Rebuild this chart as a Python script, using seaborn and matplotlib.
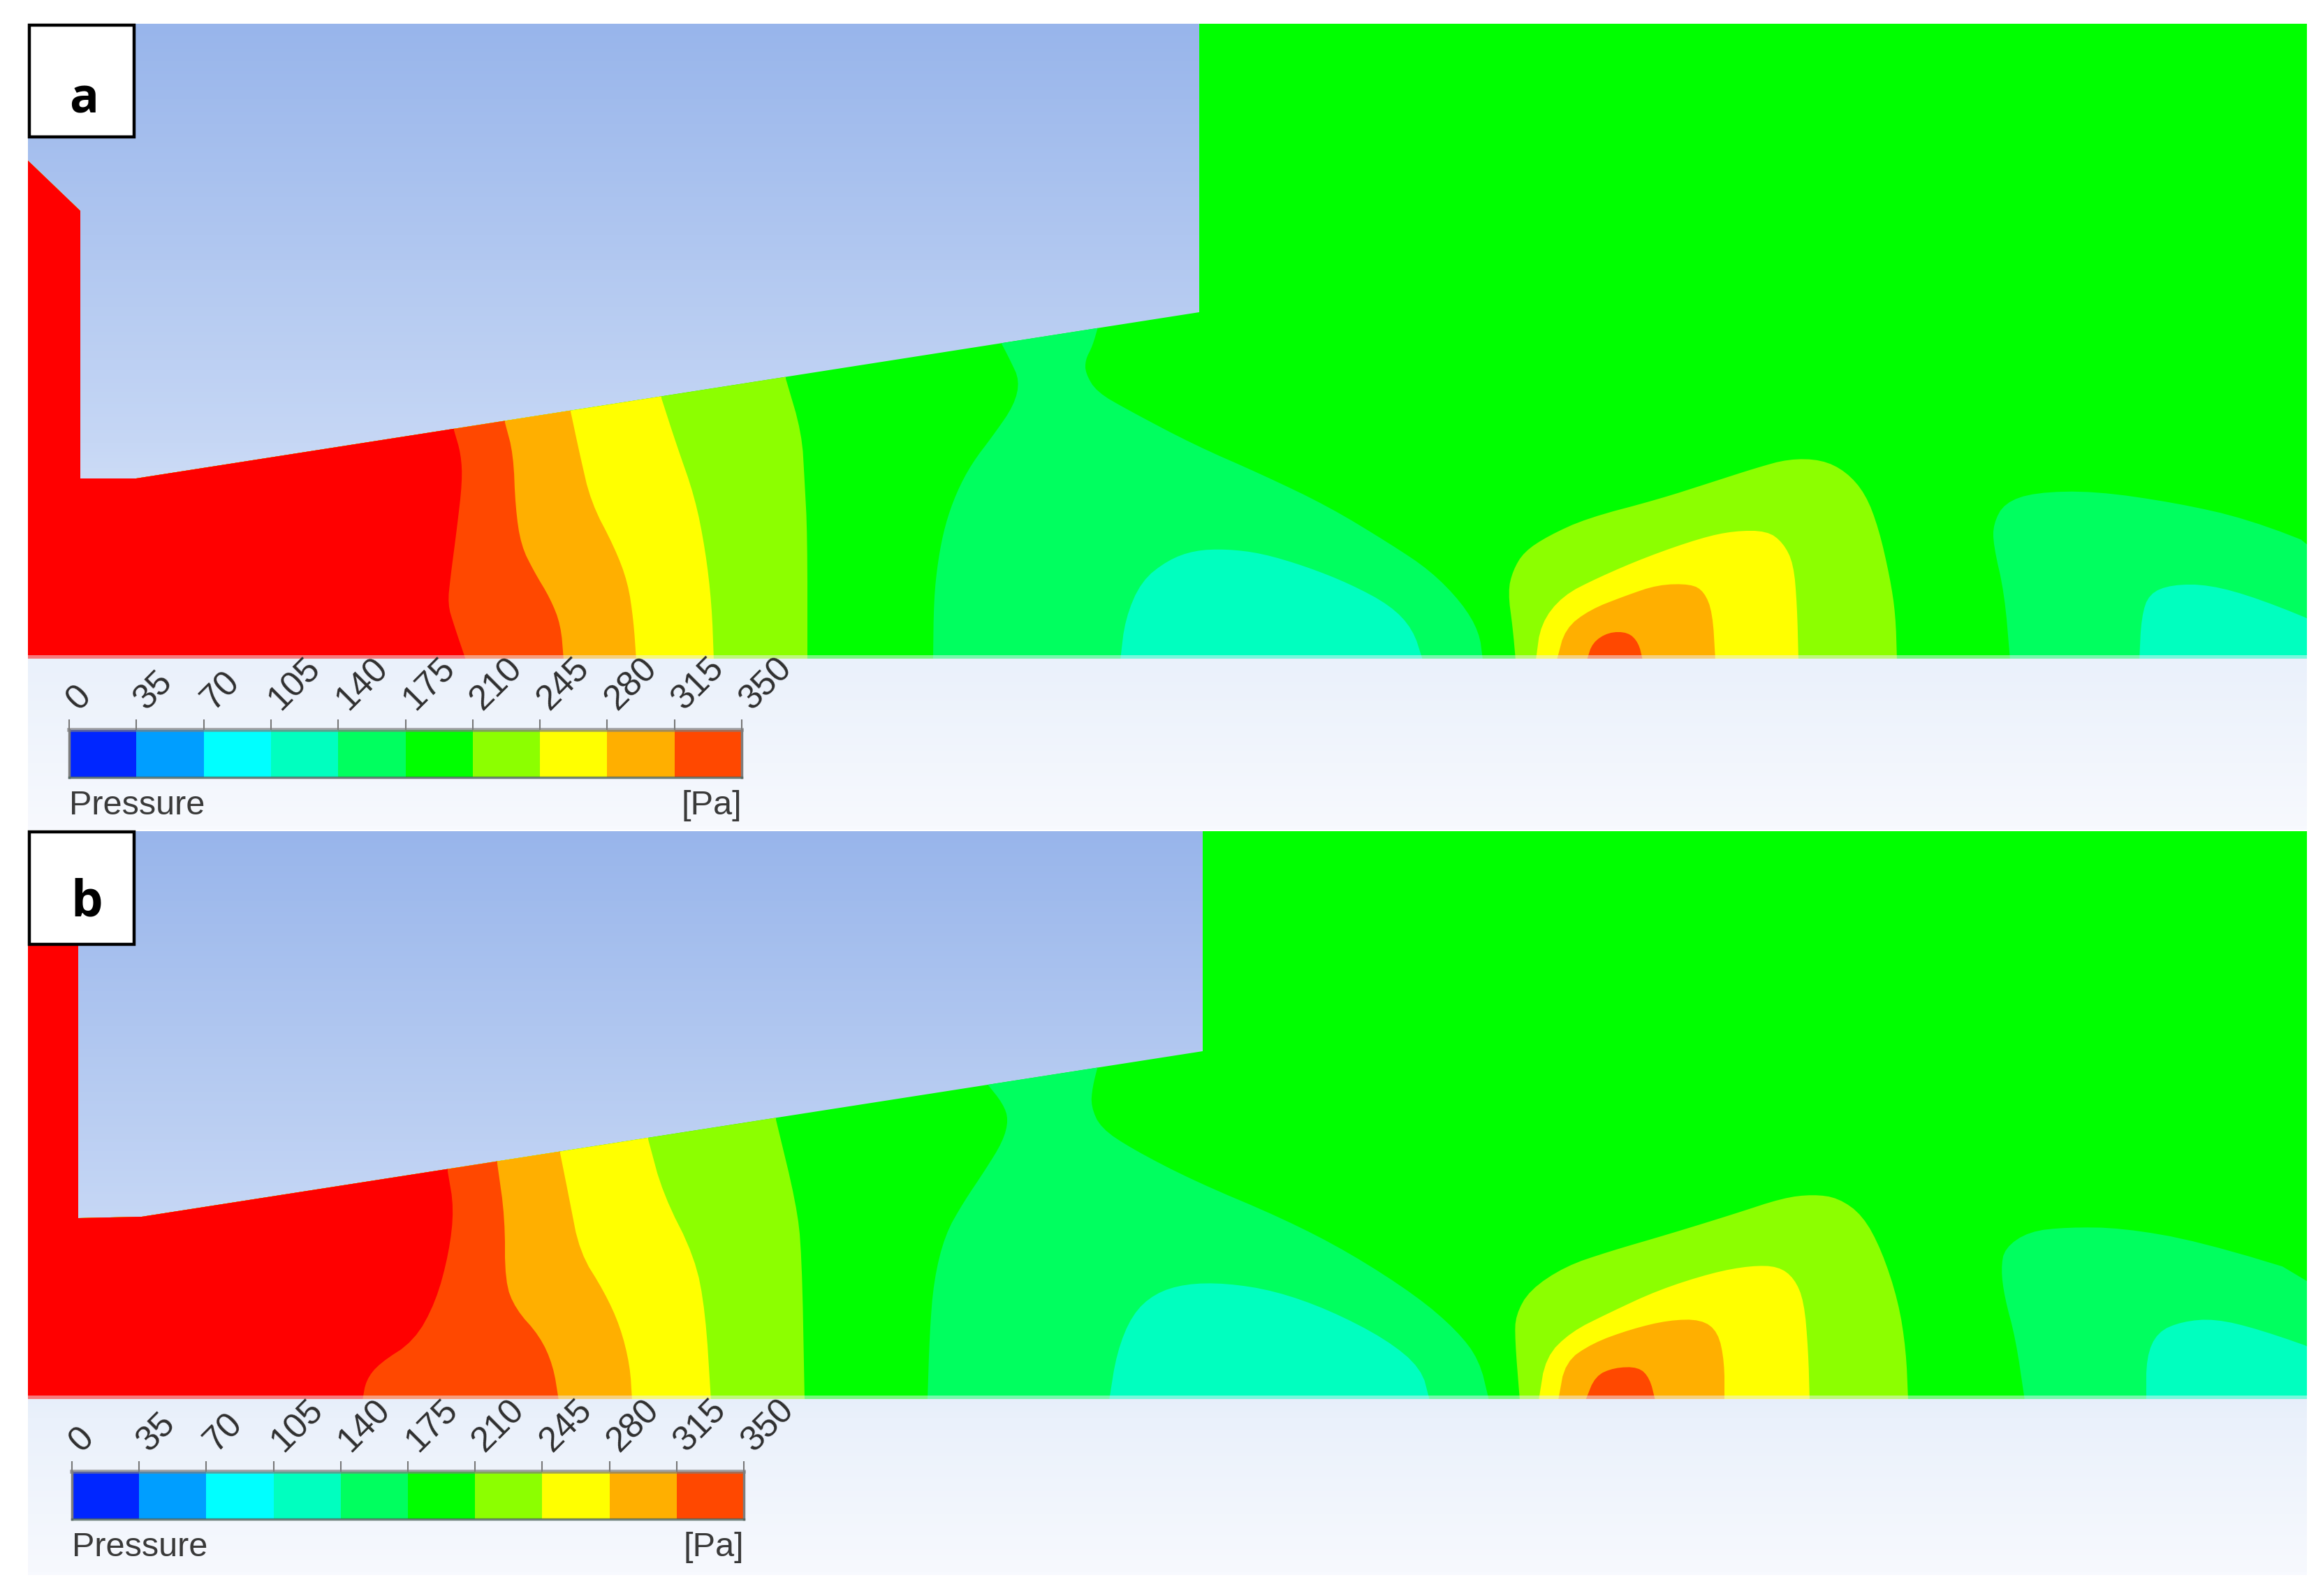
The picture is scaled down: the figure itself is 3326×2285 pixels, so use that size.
#!/usr/bin/env python3
import numpy as np
import matplotlib
matplotlib.use("Agg")
import matplotlib.pyplot as plt
from matplotlib.colors import ListedColormap, LinearSegmentedColormap
from matplotlib.patches import Polygon, Rectangle
import seaborn as sns

WIDTH, HEIGHT = 3326, 2285

# Legend levels and band colours
PRESSURE_TICKS = [0, 35, 70, 105, 140, 175, 210, 245, 280, 315, 350]
BAND_COLORS = ["#0026FF", "#009EFF", "#00FFFF", "#00FFBF", "#00FF5F", "#00FF00",
               "#8CFF00", "#FFFF00", "#FFAF00", "#FF4800"]
COL_RED = "#FF0000"
COL_ORANGERED, COL_ORANGE, COL_YELLOW, COL_LIME = BAND_COLORS[9], BAND_COLORS[8], BAND_COLORS[7], BAND_COLORS[6]
COL_GREEN, COL_SPRING, COL_AQUA = BAND_COLORS[5], BAND_COLORS[4], BAND_COLORS[3]

# Panel a: fluid outline and isobars (pixels)
A_FLUID = [(40, 230), (115, 302), (115, 685), (195, 685), (1717, 447), (1717, 34),
           (3303, 34), (3303, 943), (40, 943)]
A_RED_EDGE = [(650, 616), (660, 650), (662, 689), (654, 758), (645, 826), (641, 865), (650, 895), (667, 945)]
A_ORANGERED_EDGE = [(723, 605), (735, 650), (738, 727), (746, 781), (765, 819), (788, 857), (803, 895), (807, 945)]
A_ORANGE_EDGE = [(817, 589), (830, 650), (846, 719), (880, 784), (899, 834), (907, 888), (911, 945)]
A_YELLOW_EDGE = [(947, 570), (968, 635), (995, 712), (1010, 788), (1019, 865), (1022, 945)]
A_LIME_EDGE = [(1125, 542), (1148, 620), (1152, 689), (1156, 765), (1156, 945)]
A_SPRING_MID = [(1433, 490), (1446, 515), (1460, 545), (1452, 580), (1423, 622), (1391, 664), (1369, 706),
                (1353, 752), (1343, 802), (1337, 859), (1336, 945), (2123, 945), (2118, 905), (2093, 863),
                (2048, 817), (1991, 779), (1902, 725), (1806, 679), (1710, 637), (1615, 587), (1570, 561),
                (1554, 534), (1554, 515), (1564, 496), (1573, 465)]
A_AQUA_MID = [(1604, 945), (1611, 886), (1634, 832), (1672, 802), (1710, 788), (1755, 786), (1806, 792),
              (1870, 811), (1933, 836), (1991, 867), (2023, 901), (2037, 945)]
A_LIME_BUMP = [(2170, 945), (2166, 900), (2159, 847), (2166, 817), (2182, 790), (2217, 767), (2272, 742),
               (2374, 715), (2452, 690), (2514, 670), (2561, 657), (2608, 658), (2643, 675), (2671, 707),
               (2690, 757), (2706, 827), (2714, 880), (2716, 945)]
A_YELLOW_BUMP = [(2199, 945), (2206, 893), (2237, 853), (2288, 827), (2358, 797), (2436, 770), (2483, 760),
                 (2530, 760), (2553, 777), (2568, 807), (2573, 867), (2575, 945)]
A_ORANGE_BUMP = [(2229, 945), (2241, 900), (2276, 873), (2327, 853), (2374, 837), (2421, 836), (2440, 847),
                 (2452, 877), (2456, 945)]
A_ORANGERED_BUMP = [(2272, 945), (2280, 920), (2303, 905), (2331, 905), (2346, 920), (2352, 945)]
A_SPRING_RIGHT = [(2878, 945), (2870, 850), (2854, 780), (2854, 750), (2870, 720), (2913, 705), (2999, 703),
                  (3116, 720), (3218, 743), (3340, 790), (3340, 945)]
A_AQUA_RIGHT = [(3063, 945), (3066, 883), (3077, 850), (3109, 837), (3163, 837), (3234, 857), (3340, 900),
                (3340, 945)]

# Panel b
B_FLUID = [(40, 1190), (112, 1190), (112, 1744), (203, 1742), (1722, 1505), (1722, 1190),
           (3303, 1190), (3303, 2003), (40, 2003)]
B_RED_EDGE = [(641, 1677), (650, 1730), (643, 1793), (624, 1864), (593, 1920), (543, 1952), (524, 1976), (519, 2005)]
B_ORANGERED_EDGE = [(712, 1666), (723, 1744), (723, 1835), (738, 1874), (773, 1913), (792, 1955), (800, 2005)]
B_ORANGE_EDGE = [(802, 1651), (815, 1716), (830, 1793), (865, 1849), (888, 1899), (902, 1955), (905, 2005)]
B_YELLOW_EDGE = [(928, 1631), (949, 1709), (995, 1800), (1010, 1878), (1018, 2005)]
B_LIME_EDGE = [(1111, 1603), (1140, 1723), (1148, 1793), (1152, 2005)]
B_SPRING_MID = [(1412, 1550), (1436, 1580), (1444, 1603), (1436, 1634), (1410, 1676), (1379, 1722), (1353, 1768),
                (1337, 1833), (1331, 1909), (1328, 2005), (2132, 2005), (2118, 1947), (2086, 1905), (2029, 1856),
                (1933, 1794), (1838, 1745), (1710, 1691), (1621, 1645), (1576, 1615), (1562, 1584), (1564, 1557),
                (1573, 1522)]
B_AQUA_MID = [(1588, 2005), (1599, 1936), (1621, 1882), (1653, 1852), (1697, 1838), (1755, 1837), (1825, 1848),
              (1902, 1875), (1984, 1917), (2035, 1959), (2047, 2005)]
B_LIME_BUMP = [(2176, 2005), (2169, 1917), (2170, 1883), (2190, 1847), (2241, 1813), (2303, 1792), (2389, 1767),
               (2483, 1738), (2553, 1715), (2596, 1710), (2632, 1715), (2667, 1740), (2694, 1790), (2718, 1863),
               (2729, 1933), (2732, 2005)]
B_YELLOW_BUMP = [(2203, 2005), (2213, 1943), (2249, 1907), (2303, 1880), (2374, 1847), (2452, 1822), (2507, 1812),
                 (2546, 1813), (2569, 1830), (2583, 1863), (2589, 1933), (2591, 2005)]
B_ORANGE_BUMP = [(2231, 2005), (2241, 1950), (2280, 1923), (2335, 1903), (2389, 1890), (2436, 1889), (2460, 1907),
                 (2469, 1950), (2469, 2005)]
B_ORANGERED_BUMP = [(2270, 2005), (2284, 1970), (2311, 1958), (2346, 1957), (2362, 1973), (2370, 2005)]
B_SPRING_RIGHT = [(2899, 2005), (2886, 1917), (2870, 1857), (2865, 1817), (2870, 1787), (2905, 1763), (2960, 1757),
                  (3038, 1758), (3148, 1777), (3340, 1835), (3340, 2005)]
B_AQUA_RIGHT = [(3073, 2005), (3073, 1943), (3089, 1907), (3124, 1892), (3171, 1888), (3234, 1903), (3340, 1940),
                (3340, 2005)]


def smooth(points, rounds=2):
    # corner cutting so the isobars do not look polygonal
    pts = np.array(points, dtype=float)
    if len(pts) < 3:
        return pts
    for _ in range(rounds):
        q = 0.75 * pts[:-1] + 0.25 * pts[1:]
        r = 0.25 * pts[:-1] + 0.75 * pts[1:]
        mid = np.empty((2 * len(q), 2))
        mid[0::2] = q
        mid[1::2] = r
        pts = np.vstack([pts[:1], mid, pts[-1:]])
    return pts


def smooth_outline(outline, bottom):
    # the points on the bottom line stay sharp, only the arms between them are rounded
    arms, run = [], []
    for p in outline:
        run.append(p)
        if p[1] == bottom and len(run) > 1:
            arms.append(smooth(run))
            run = [p]
    if len(run) > 1:
        arms.append(smooth(run))
    return np.vstack(arms)


def left_region(edge, top, bottom):
    pts = smooth(edge)
    extra = np.array([(0, bottom), (0, top), (pts[0, 0], top)], dtype=float)
    return np.vstack([pts, extra])


def draw_field(ax, fluid, left_edges, islands, top, bottom):
    base = Polygon(fluid, closed=True, facecolor=COL_GREEN, edgecolor="none", zorder=2)
    ax.add_patch(base)
    for edge, color in left_edges:
        p = Polygon(left_region(edge, top, bottom), closed=True, facecolor=color, edgecolor="none", zorder=3)
        ax.add_patch(p)
        p.set_clip_path(base)
    for outline, color in islands:
        p = Polygon(smooth_outline(outline, bottom), closed=True, facecolor=color, edgecolor="none", zorder=4)
        ax.add_patch(p)
        p.set_clip_path(base)
    # pale seam where the field meets the legend strip
    ax.add_patch(Rectangle((40, bottom - 7), 3263, 5, facecolor="#EEF2FB", edgecolor="none", alpha=0.5, zorder=4.5))


def draw_legend(fig, ax, x0, x1, y0, y1, text_y):
    bar = fig.add_axes([x0 / WIDTH, 1 - y1 / HEIGHT, (x1 - x0) / WIDTH, (y1 - y0) / HEIGHT])
    sns.heatmap(np.arange(len(BAND_COLORS)).reshape(1, -1), ax=bar, cmap=ListedColormap(BAND_COLORS),
                cbar=False, xticklabels=False, yticklabels=False)
    for name, side in bar.spines.items():
        side.set_visible(True)
        side.set_color("#7d7d7d")
        side.set_linewidth(2.5)
    bar.spines["top"].set_alpha(0.7)
    bar.spines["top"].set_linewidth(4)
    bar.spines["bottom"].set_color("#4f6660")
    bar.spines["bottom"].set_alpha(0.8)
    bar.xaxis.tick_top()
    bar.set_xticks(np.arange(len(PRESSURE_TICKS)))
    bar.set_xticklabels([])
    bar.tick_params(axis="x", top=True, length=11, width=1.5, color="#777777")
    bar.set_yticks([])
    for i, value in enumerate(PRESSURE_TICKS):
        bar.annotate(str(value), (i, 0), xytext=(15, 14), textcoords="offset points", rotation=45,
                     ha="left", va="bottom", rotation_mode="anchor", fontsize=36, color="#2e2e2e",
                     annotation_clip=False)
    ax.text(x0, text_y, "Pressure", fontsize=35, color="#3a3a3a", ha="left", va="center", zorder=6)
    ax.text(x1, text_y, "[Pa]", fontsize=35, color="#3a3a3a", ha="right", va="center", zorder=6)


def main():
    sns.set_theme(style="white")
    plt.rcParams["font.family"] = ["Liberation Sans", "DejaVu Sans"]
    fig = plt.figure(figsize=(WIDTH / 100, HEIGHT / 100), dpi=100, facecolor="white")
    ax = fig.add_axes([0, 0, 1, 1])

    grad = LinearSegmentedColormap.from_list(
        "bg", [(0, "#98B5EB"), (0.52, "#C6D7F5"), (0.79, "#EAF1FB"), (1, "#F7F9FE")])
    ramp = np.linspace(0, 1, 256).reshape(-1, 1)
    ax.imshow(ramp, cmap=grad, aspect="auto", extent=(40, 3303, 1188, 34), zorder=1)
    ax.imshow(ramp, cmap=grad, aspect="auto", extent=(40, 3303, 2255, 1190), zorder=1)
    ax.set_xlim(0, WIDTH)
    ax.set_ylim(HEIGHT, 0)
    ax.axis("off")

    draw_field(ax, A_FLUID,
               [(A_LIME_EDGE, COL_LIME), (A_YELLOW_EDGE, COL_YELLOW), (A_ORANGE_EDGE, COL_ORANGE),
                (A_ORANGERED_EDGE, COL_ORANGERED), (A_RED_EDGE, COL_RED)],
               [(A_SPRING_MID, COL_SPRING), (A_AQUA_MID, COL_AQUA), (A_LIME_BUMP, COL_LIME),
                (A_YELLOW_BUMP, COL_YELLOW), (A_ORANGE_BUMP, COL_ORANGE), (A_ORANGERED_BUMP, COL_ORANGERED),
                (A_SPRING_RIGHT, COL_SPRING), (A_AQUA_RIGHT, COL_AQUA)],
               34, 945)
    draw_field(ax, B_FLUID,
               [(B_LIME_EDGE, COL_LIME), (B_YELLOW_EDGE, COL_YELLOW), (B_ORANGE_EDGE, COL_ORANGE),
                (B_ORANGERED_EDGE, COL_ORANGERED), (B_RED_EDGE, COL_RED)],
               [(B_SPRING_MID, COL_SPRING), (B_AQUA_MID, COL_AQUA), (B_LIME_BUMP, COL_LIME),
                (B_YELLOW_BUMP, COL_YELLOW), (B_ORANGE_BUMP, COL_ORANGE), (B_ORANGERED_BUMP, COL_ORANGERED),
                (B_SPRING_RIGHT, COL_SPRING), (B_AQUA_RIGHT, COL_AQUA)],
               1190, 2005)

    # panel letters
    ax.add_patch(Rectangle((42, 36), 150, 160, facecolor="white", edgecolor="black", linewidth=3.2, zorder=5))
    ax.add_patch(Rectangle((42, 1191), 150, 161, facecolor="white", edgecolor="black", linewidth=3.2, zorder=5))
    ax.text(120, 144, "a", fontsize=50, fontweight="bold", fontfamily="Open Sans", ha="center", va="center",
            color="black", zorder=6)
    ax.text(124, 1292, "b", fontsize=52, fontweight="bold", fontfamily="Open Sans", ha="center", va="center",
            color="black", zorder=6)

    draw_legend(fig, ax, 99, 1062, 1045, 1113, 1153)
    draw_legend(fig, ax, 103, 1065, 2107, 2175, 2216)

    fig.savefig("out.png", dpi=100, facecolor="white")


if __name__ == "__main__":
    main()
